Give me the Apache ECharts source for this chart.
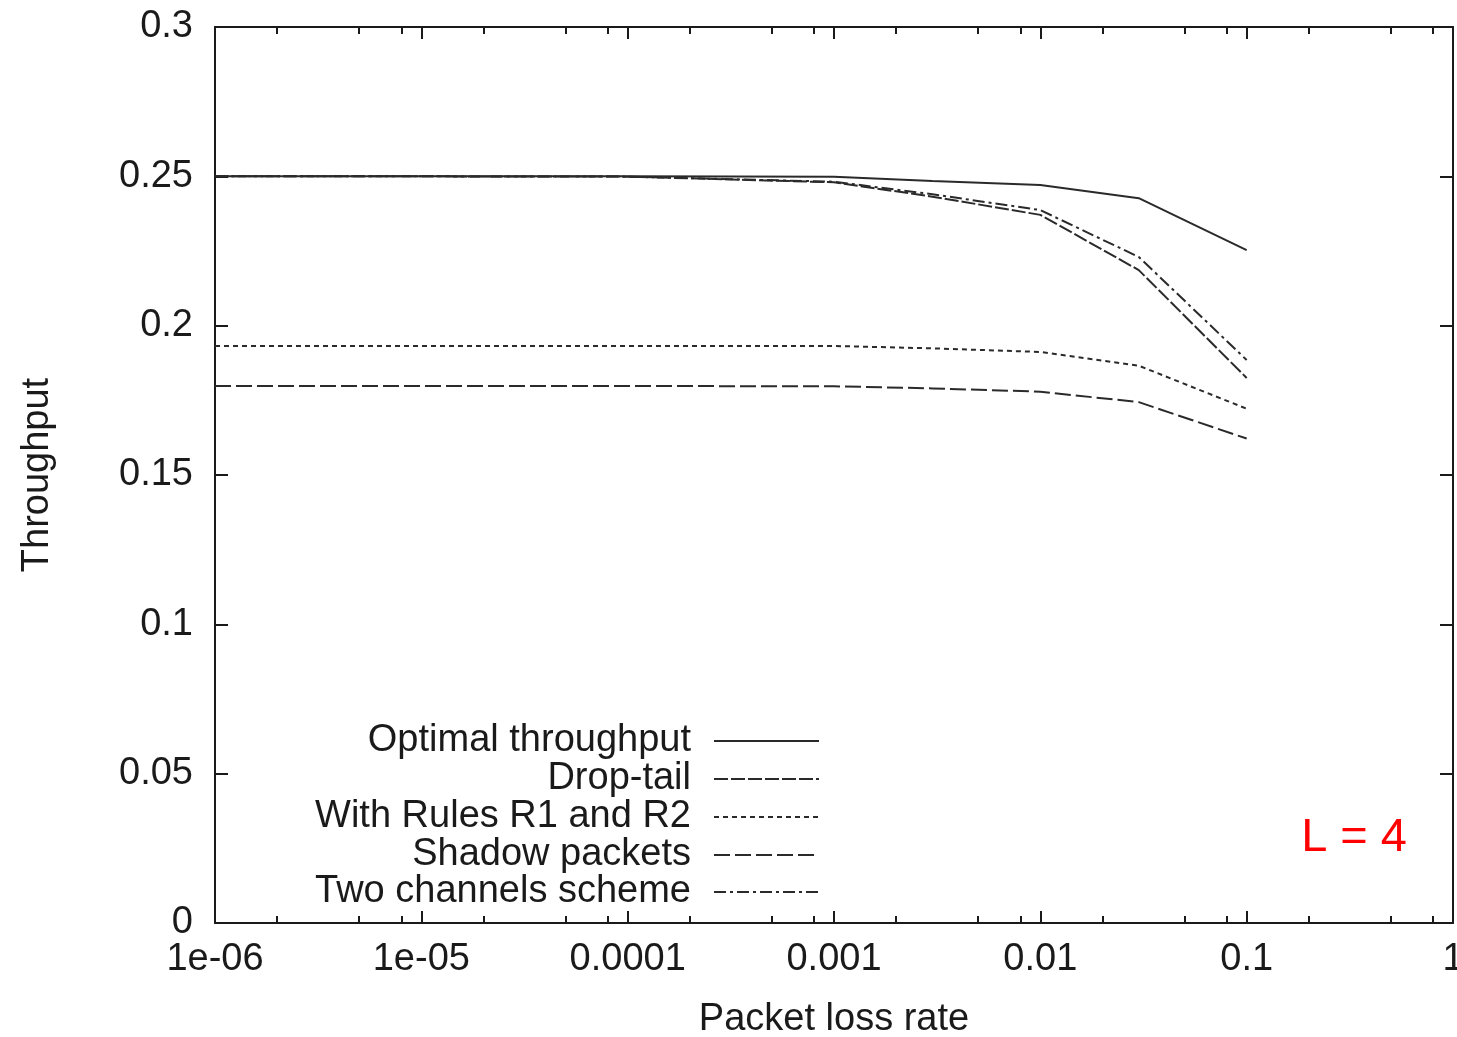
<!DOCTYPE html>
<html>
<head>
<meta charset="utf-8">
<script src="https://cdn.jsdelivr.net/npm/echarts@6/dist/echarts.min.js"></script>
<style>
  html, body { margin: 0; padding: 0; background: #fff; }
  #chart { width: 1457px; height: 1037px; }
</style>
</head>
<body>
<div id="chart"></div>
<script>
// packet loss rates where the curves were sampled
const lossRate = [1e-6, 1e-5, 1e-4, 1e-3, 3e-3, 1e-2, 3e-2, 1e-1];

const optimal = [0.25, 0.25, 0.25, 0.2499, 0.2484, 0.2471, 0.2427, 0.2253];
const dropTail = [0.25, 0.25, 0.2499, 0.2480, 0.2432, 0.2371, 0.2186, 0.1825];
const rulesR1R2 = [0.1932, 0.1932, 0.1932, 0.1932, 0.1924, 0.1912, 0.1866, 0.1722];
const shadow = [0.1798, 0.1798, 0.1798, 0.1797, 0.1790, 0.1779, 0.1744, 0.1622];
const twoChannels = [0.25, 0.25, 0.2499, 0.2482, 0.2440, 0.2387, 0.2230, 0.1885];

const xTickLabels = ['1e-06', '1e-05', '0.0001', '0.001', '0.01', '0.1', '1'];
const yTickLabels = ['0', '0.05', '0.1', '0.15', '0.2', '0.25', '0.3'];
// gnuplot-style minor ticks at 2, 5 and 8 of every decade
const minorTicks = [];
for (let e = -6; e < 0; e++) {
  [2, 5, 8].forEach(m => minorTicks.push(m * Math.pow(10, e)));
}

const FONT = '"Liberation Sans", Arial, sans-serif';
const INK = '#1a1a1a';
const LINE = '#2a2a2a';

const seriesDefs = [
  { name: 'Optimal throughput', data: optimal, type: 'solid' },
  { name: 'Drop-tail', data: dropTail, type: [14, 3] },
  { name: 'With Rules R1 and R2', data: rulesR1R2, type: [5, 4] },
  { name: 'Shadow packets', data: shadow, type: [16, 5] },
  { name: 'Two channels scheme', data: twoChannels, type: [12, 4, 3, 4] },
];

const legendRowTop = [722, 760, 798, 836, 873];

const chart = echarts.init(document.getElementById('chart'));

const baseX = {
  type: 'log',
  logBase: 10,
  min: 1e-6,
  max: 1,
  splitLine: { show: false },
};

const option = {
  animation: false,
  backgroundColor: '#fff',
  textStyle: { fontFamily: FONT },
  title: {
    text: 'L = 4',
    right: 50,
    top: 815,
    padding: 0,
    textStyle: { color: '#ff0000', fontSize: 47, fontWeight: 'normal', fontFamily: FONT },
  },
  grid: { left: 215, right: 4, top: 27, bottom: 114, outerBoundsMode: 'none', containLabel: false },
  legend: seriesDefs.map((s, i) => ({
    data: [s.name],
    orient: 'horizontal',
    align: 'right',
    right: 637,
    top: legendRowTop[i],
    padding: 0,
    itemWidth: 105,
    itemHeight: 14,
    selectedMode: false,
    itemStyle: { opacity: 0, borderWidth: 0 },
    textStyle: { fontSize: 38, color: INK, fontFamily: FONT, padding: [0, 18, 0, 0] },
  })),
  xAxis: [
    {
      ...baseX,
      position: 'bottom',
      name: 'Packet loss rate',
      nameLocation: 'middle',
      nameGap: 78,
      nameTextStyle: { fontSize: 38, color: INK, fontFamily: FONT },
      axisLine: { lineStyle: { color: INK, width: 2 } },
      axisTick: { inside: true, length: 12, lineStyle: { color: INK, width: 2 } },
      axisLabel: {
        margin: 18,
        fontSize: 38,
        color: INK,
        formatter: v => xTickLabels[Math.round(Math.log10(v)) + 6],
      },
    },
    {
      ...baseX,
      position: 'bottom',
      axisLine: { show: false },
      axisTick: { inside: true, length: 7, customValues: minorTicks, lineStyle: { color: INK, width: 2 } },
      axisLabel: { show: false },
    },
    {
      ...baseX,
      position: 'top',
      axisLine: { lineStyle: { color: INK, width: 2 } },
      axisTick: { inside: true, length: 12, lineStyle: { color: INK, width: 2 } },
      axisLabel: { show: false },
    },
    {
      ...baseX,
      position: 'top',
      axisLine: { show: false },
      axisTick: { inside: true, length: 7, customValues: minorTicks, lineStyle: { color: INK, width: 2 } },
      axisLabel: { show: false },
    },
  ],
  yAxis: [
    {
      type: 'value',
      min: 0,
      max: 0.3,
      interval: 0.05,
      position: 'left',
      name: 'Throughput',
      nameLocation: 'middle',
      nameGap: 158,
      nameRotate: 90,
      nameTextStyle: { fontSize: 38, color: INK, fontFamily: FONT },
      splitLine: { show: false },
      axisLine: { show: true, lineStyle: { color: INK, width: 2 } },
      axisTick: { inside: true, length: 13, lineStyle: { color: INK, width: 2 } },
      axisLabel: {
        margin: 22,
        fontSize: 38,
        color: INK,
        formatter: (v, i) => yTickLabels[i],
      },
    },
    {
      type: 'value',
      min: 0,
      max: 0.3,
      interval: 0.05,
      position: 'right',
      splitLine: { show: false },
      axisLine: { show: true, lineStyle: { color: INK, width: 2 } },
      axisTick: { inside: true, length: 13, lineStyle: { color: INK, width: 2 } },
      axisLabel: { show: false },
    },
  ],
  series: seriesDefs.map(s => ({
    name: s.name,
    type: 'line',
    xAxisIndex: 0,
    yAxisIndex: 0,
    symbol: 'none',
    data: lossRate.map((x, i) => [x, s.data[i]]),
    lineStyle: { color: LINE, width: 2, type: s.type },
    itemStyle: { color: LINE },
  })),
};

chart.setOption(option);
</script>
</body>
</html>
